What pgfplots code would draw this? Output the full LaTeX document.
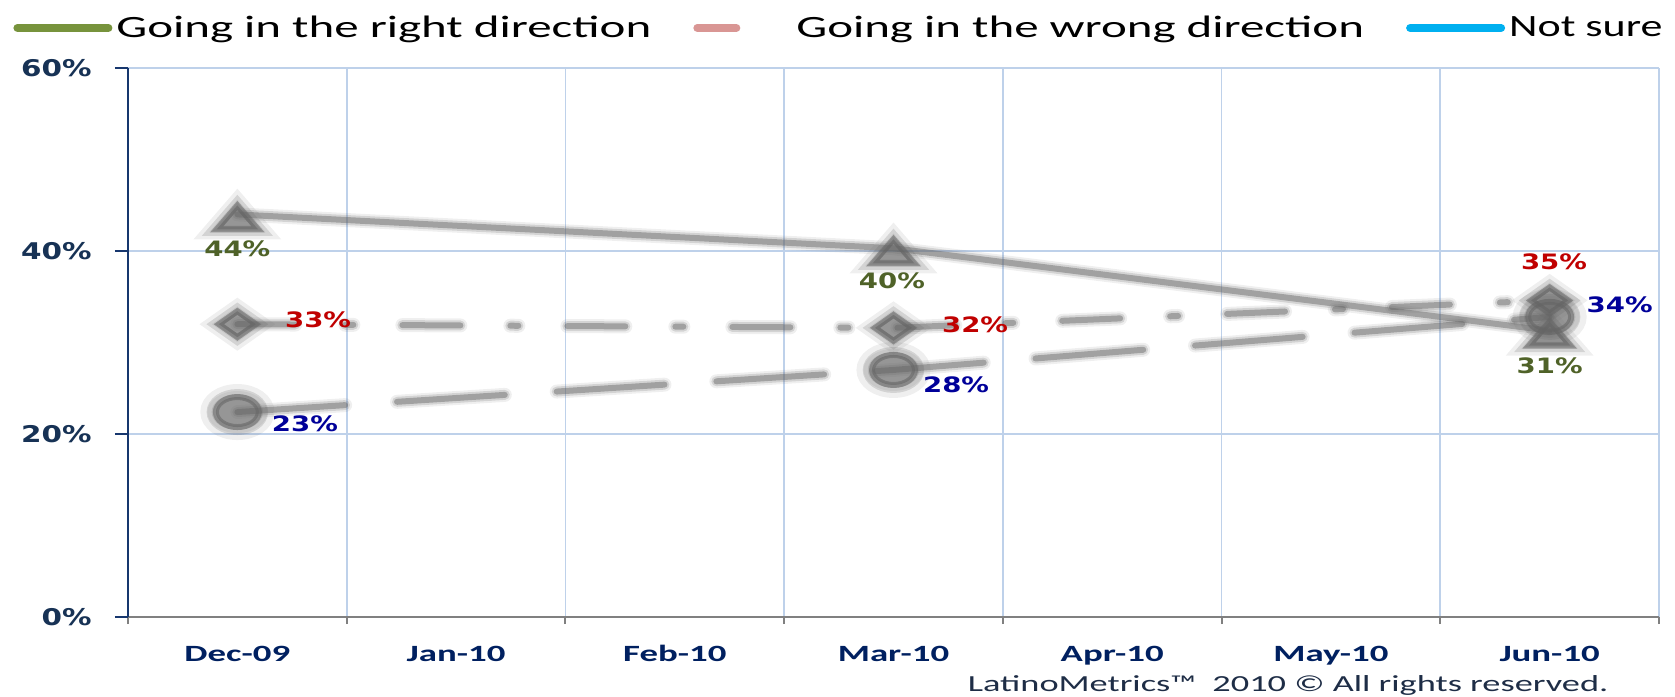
\documentclass[border=0pt]{standalone}
\usepackage{pgfplots}
\pgfplotsset{compat=1.18}
\usepackage{fontspec}
\setmainfont{Carlito}[FakeStretch=1.58]
\newfontfamily\nsfont{Carlito}[FakeStretch=1.42]
\newfontfamily\ytfont{DejaVu Sans}[FakeStretch=1.28]
\newfontfamily\dlfont{DejaVu Sans}[FakeStretch=1.3]
\definecolor{gridc}{RGB}{190,209,234}
\definecolor{yaxc}{RGB}{23,55,110}
\definecolor{xtc}{RGB}{0,32,96}
\definecolor{ytc}{RGB}{23,50,85}
\definecolor{olivec}{RGB}{79,98,40}
\definecolor{redc}{RGB}{192,0,0}
\definecolor{bluec}{RGB}{0,0,153}
\definecolor{leggreen}{RGB}{119,147,60}
\definecolor{legpink}{RGB}{217,150,148}
\definecolor{legcyan}{RGB}{0,176,240}
\definecolor{copyc}{RGB}{30,45,70}
\definecolor{shad}{RGB}{100,100,100}
\tikzset{
 hA/.style={shad, opacity=0.1, line width=7pt, line cap=round},
 hB/.style={shad, opacity=0.2, line width=5pt, line cap=round},
 hC/.style={shad, opacity=0.45, line width=3pt, line cap=round},
 dl/.style={font=\dlfont\bfseries\fontsize{10.6}{12}\selectfont, inner sep=0pt},
}
\pgfplotstableread{
x right wrong notsure
0 44.0 32.0 22.4
3 40.3 31.6 27.0
6 31.3 34.6 32.8
}\datatab
\begin{document}
\begin{tikzpicture}
\path[use as bounding box] (-64pt,-39.5pt) rectangle (773.5pt,308.5pt);
\begin{axis}[
 at={(0,0)}, anchor=south west,
 scale only axis, width=765.5pt, height=274.5pt,
 xmin=-0.5, xmax=6.5, ymin=0, ymax=60,
 clip=false,
 axis x line*=bottom, axis y line*=left,
 x axis line style={draw=gray, line width=1pt},
 y axis line style={draw=yaxc, line width=1.2pt},
 xtick={-0.5,0.5,...,6.5},
 xticklabels={Dec-09,Jan-10,Feb-10,Mar-10,Apr-10,May-10,Jun-10},
 x tick label as interval,
 ytick={0,20,40,60}, yticklabels={0\%,20\%,40\%,60\%},
 tick align=outside,
 major tick length=6.5pt,
 xmajorgrids, ymajorgrids, grid style={gridc, line width=0.8pt},
 xtick style={draw=gray, line width=1pt, /pgfplots/major tick length=3.5pt},
 ytick style={draw=yaxc, line width=1.2pt},
 xticklabel style={font=\bfseries\fontsize{11.65}{13}\selectfont, text=xtc, anchor=base, yshift=-15.5pt},
 yticklabel style={font=\ytfont\bfseries\fontsize{11.5}{13}\selectfont, text=ytc, anchor=east, inner sep=0pt, xshift=-11.5pt},
 legend style={at={(axis description cs:-0.0751,1.073)}, anchor=west, draw=none, fill=none, inner sep=0pt, legend columns=3, font=\fontsize{15.5}{18}\selectfont, /tikz/every even column/.append style={column sep=19pt}, cells={anchor=west}},
 legend image code/.code={\draw[#1] (2pt,0pt) -- (47.5pt,0pt);},
]
\addlegendimage{line width=4pt, line cap=round, leggreen}
\addlegendentry{Going in the right direction}
\addlegendimage{line width=4pt, line cap=round, legpink, dash pattern=on 19.5pt off 40pt}
\addlegendentry{Going in the wrong direction}
\addlegendimage{line width=4pt, line cap=round, legcyan}
\addlegendentry{\nsfont Not sure}

% Not sure (long dash, circles)
\addplot[forget plot, hA, dash pattern=on 54pt off 26pt, mark=*, mark size=10.5pt, mark options={solid, xscale=1.43, fill=shad, draw=none, opacity=0.1}] table[x=x, y=notsure] {\datatab};
\addplot[forget plot, hB, dash pattern=on 54pt off 26pt, mark=*, mark size=9pt, mark options={solid, xscale=1.43, fill=shad, draw=none, opacity=0.2}] table[x=x, y=notsure] {\datatab};
\addplot[forget plot, hC, dash pattern=on 54pt off 26pt, mark=*, mark size=7.5pt, mark options={solid, xscale=1.43, fill=shad, draw=none, opacity=0.55}] table[x=x, y=notsure] {\datatab};
% Wrong direction (dash dot, diamonds)
\addplot[forget plot, hA, dash pattern=on 29pt off 25pt on 4pt off 24.5pt, mark=diamond*, mark size=9pt, mark options={solid, xscale=1.9, fill=shad, draw=none, opacity=0.1}] table[x=x, y=wrong] {\datatab};
\addplot[forget plot, hB, dash pattern=on 29pt off 25pt on 4pt off 24.5pt, mark=diamond*, mark size=7.8pt, mark options={solid, xscale=1.9, fill=shad, draw=none, opacity=0.2}] table[x=x, y=wrong] {\datatab};
\addplot[forget plot, hC, dash pattern=on 29pt off 25pt on 4pt off 24.5pt, mark=diamond*, mark size=6.5pt, mark options={solid, xscale=1.9, fill=shad, draw=none, opacity=0.55}] table[x=x, y=wrong] {\datatab};
% Right direction (solid, triangles)
\addplot[forget plot, hA, mark=triangle*, mark size=11pt, mark options={solid, xscale=1.5, yshift=-3.5pt, fill=shad, draw=none, opacity=0.1}] table[x=x, y=right] {\datatab};
\addplot[forget plot, hB, mark=triangle*, mark size=9.5pt, mark options={solid, xscale=1.5, yshift=-3.5pt, fill=shad, draw=none, opacity=0.2}] table[x=x, y=right] {\datatab};
\addplot[forget plot, hC, mark=triangle*, mark size=8pt, mark options={solid, xscale=1.5, yshift=-3.5pt, fill=shad, draw=none, opacity=0.55}] table[x=x, y=right] {\datatab};

\node[dl, text=olivec] at (axis cs:0,40.2) {44\%};
\node[dl, text=redc] at (axis cs:0.369,32.5) {33\%};
\node[dl, text=bluec] at (axis cs:0.309,21.1) {23\%};
\node[dl, text=olivec] at (axis cs:2.993,36.8) {40\%};
\node[dl, text=redc] at (axis cs:3.373,31.9) {32\%};
\node[dl, text=bluec] at (axis cs:3.286,25.4) {28\%};
\node[dl, text=redc] at (axis cs:6.02,38.8) {35\%};
\node[dl, text=bluec] at (axis cs:6.32,34.1) {34\%};
\node[dl, text=olivec] at (axis cs:6.00,27.5) {31\%};

\node[anchor=base, font=\fontsize{11.5}{13}\selectfont, text=copyc, inner sep=0pt] at (axis description cs:0.7577,-0.1366) {LatinoMetrics™\ \ 2010 © All rights reserved.};
\end{axis}
\end{tikzpicture}
\end{document}
